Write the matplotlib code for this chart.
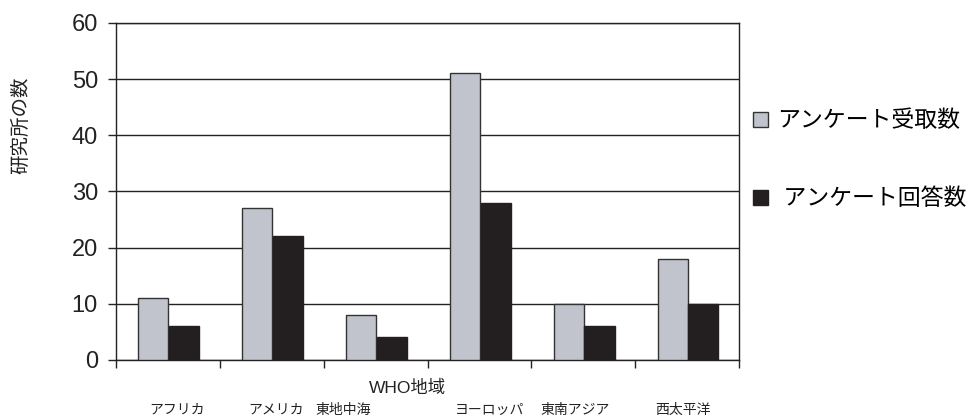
import matplotlib
matplotlib.use("Agg")
from matplotlib import pyplot as plt
from matplotlib.patches import Patch
from matplotlib.transforms import blended_transform_factory

plt.rcParams['font.family'] = ['Liberation Sans', 'Noto Sans CJK JP', 'DejaVu Sans']

# data
regions = ['アフリカ', 'アメリカ', '東地中海', 'ヨーロッパ', '東南アジア', '西太平洋']
received = [11, 27, 8, 51, 10, 18]
answered = [6, 22, 4, 28, 6, 10]
series_names = ['アンケート受取数', ' アンケート回答数']

# where the region names sit under each slot (they are not centred in the original)
label_pos = [0.59, 1.54, 2.19, 3.60, 4.42, 5.46]

grey = '#c1c4cc'
black = '#231f20'

fig = plt.figure(figsize=(9.79, 4.17), dpi=100)
ax = fig.add_axes([0.1185, 0.137, 0.755 - 0.1185, 0.945 - 0.137])

idx = list(range(len(regions)))
w = 0.29
ax.bar([i + 0.36 for i in idx], received, width=w, color=grey,
       edgecolor='#333333', linewidth=1, zorder=3)
ax.bar([i + 0.655 for i in idx], answered, width=w, color=black,
       edgecolor=black, linewidth=1, zorder=3)

ax.set_xlim(0, 6)
ax.set_ylim(0, 60)
ax.set_yticks(range(0, 61, 10))
ax.yaxis.grid(True, color='#222222', linewidth=1, zorder=0)
ax.set_axisbelow(True)

ax.set_xticks(range(0, 7))
ax.set_xticklabels([])
ax.tick_params(axis='x', direction='out', length=6, width=1, color='#222222')
ax.tick_params(axis='y', direction='out', length=6, width=1, color='#222222',
               labelsize=17, pad=7, labelcolor='#222222')

for s in ax.spines.values():
    s.set_color('#222222')
    s.set_linewidth(1)

trans = blended_transform_factory(ax.transData, ax.transAxes)
for x, name in zip(label_pos, regions):
    ax.text(x, -0.148, name, transform=trans, ha='center', va='center',
            fontsize=10, color='#222222')
ax.text(2.81, -0.083, 'WHO地域', transform=trans, ha='center', va='center',
        fontsize=12.5, color='#222222')

fig.text(0.0215, 0.70, '研究所の数', rotation=90, ha='center', va='center',
         fontsize=14, color='#222222')

handles = [Patch(facecolor=grey, edgecolor='#333333', linewidth=1),
           Patch(facecolor=black, edgecolor=black, linewidth=1)]
fig.legend(handles, series_names, loc='upper left',
           bbox_to_anchor=(0.769, 0.738), frameon=False, fontsize=16.5,
           handlelength=0.65, handleheight=0.65, handletextpad=0.4,
           labelspacing=2.4, borderaxespad=0, borderpad=0)

fig.savefig('out.png', dpi=100)
